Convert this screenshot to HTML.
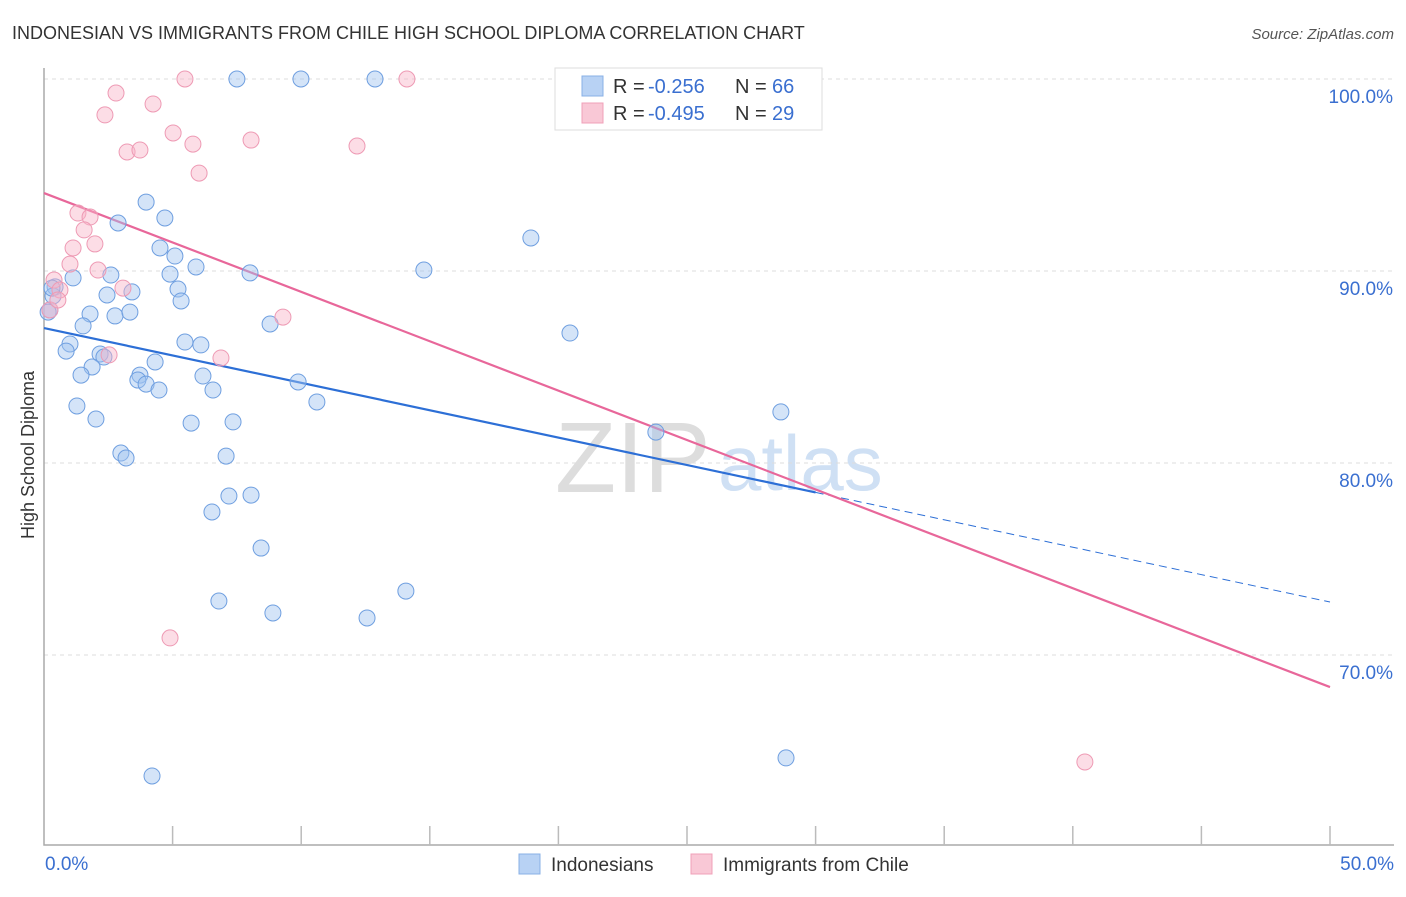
<!DOCTYPE html>
<html><head><meta charset="utf-8"><style>
body{margin:0;background:#fff;font-family:"Liberation Sans",sans-serif;}
svg text{font-family:"Liberation Sans",sans-serif;}
</style></head><body>
<svg id="chart" width="1406" height="892" xmlns="http://www.w3.org/2000/svg">
<text x="12" y="39" font-size="18" fill="#333">INDONESIAN VS IMMIGRANTS FROM CHILE HIGH SCHOOL DIPLOMA CORRELATION CHART</text>
<text x="1394" y="39" font-size="15" fill="#555" text-anchor="end" font-style="italic">Source: ZipAtlas.com</text>
<g>
<text x="555" y="492" font-size="100" fill="#ddd" font-family="Liberation Serif, serif">ZIP</text>
<text x="718" y="490" font-size="78" fill="#cfe0f4">atlas</text>
</g>
<g id="grid"></g>
<g id="axes"></g>
<g id="trends"></g>
<g id="points"></g>
<text transform="translate(34,455) rotate(-90)" font-size="18" fill="#333" text-anchor="middle">High School Diploma</text>
<g>
<rect x="555" y="68" width="267" height="62" fill="#fff" stroke="#ddd"/>
<rect x="582" y="76" width="21" height="20" fill="#b8d2f4" stroke="#88b0e6"/>
<text x="613" y="93" font-size="20" fill="#333">R =</text>
<text x="648" y="93" font-size="20" fill="#3a6fd0">-0.256</text>
<text x="735" y="93" font-size="20" fill="#333">N =</text>
<text x="772" y="93" font-size="20" fill="#3a6fd0">66</text>
<rect x="582" y="103" width="21" height="20" fill="#f9c8d6" stroke="#f0a0b8"/>
<text x="613" y="120" font-size="20" fill="#333">R =</text>
<text x="648" y="120" font-size="20" fill="#3a6fd0">-0.495</text>
<text x="735" y="120" font-size="20" fill="#333">N =</text>
<text x="772" y="120" font-size="20" fill="#3a6fd0">29</text>
</g>
<g>
<rect x="519" y="854" width="21" height="20" fill="#b8d2f4" stroke="#88b0e6"/>
<text x="551" y="871" font-size="19" fill="#333">Indonesians</text>
<rect x="691" y="854" width="21" height="20" fill="#f9c8d6" stroke="#f0a0b8"/>
<text x="723" y="871" font-size="19" fill="#333">Immigrants from Chile</text>
</g>
</svg>
<script>
const blueX=[7.50,9.99,12.87,3.97,2.88,4.70,4.51,5.09,5.91,4.90,2.60,8.01,5.21,5.33,2.45,3.42,1.13,0.43,0.35,0.23,1.79,2.76,3.34,1.52,8.79,5.48,6.10,1.01,0.86,2.18,2.33,4.32,1.87,1.44,3.73,3.65,3.97,4.47,6.18,6.57,9.88,10.61,1.28,2.02,5.72,7.35,2.99,3.19,7.08,7.19,8.05,6.53,8.44,6.80,8.90,12.56,14.07,18.93,14.77,20.45,23.79,28.65,28.85,4.20,0.16,0.31];
const blueY=[100,100,100,93.59,92.50,92.76,91.20,90.78,90.21,89.84,89.79,89.90,89.06,88.44,88.75,88.91,89.64,89.17,88.70,87.97,87.76,87.66,87.86,87.14,87.24,86.30,86.15,86.20,85.83,85.68,85.52,85.26,85.00,84.58,84.58,84.32,84.11,83.80,84.53,83.80,84.22,83.18,82.97,82.29,82.08,82.14,80.52,80.26,80.36,78.28,78.33,77.45,75.57,72.81,72.19,71.93,73.33,91.72,90.05,86.77,81.61,82.66,64.64,63.70,87.86,89.11];
const pinkX=[5.48,14.11,2.80,4.24,2.37,5.02,5.79,8.05,12.17,3.23,3.73,6.03,1.32,1.79,1.56,1.13,1.98,1.01,2.10,0.39,0.62,3.07,9.29,6.88,2.53,4.90,40.47,0.23,0.54];
const pinkY=[100,100,99.27,98.70,98.13,97.19,96.61,96.82,96.51,96.20,96.30,95.10,93.02,92.81,92.14,91.20,91.41,90.36,90.05,89.53,89.01,89.11,87.60,85.47,85.63,70.89,64.43,87.97,88.49];
const blueTrend=[87.03,72.76]; // values at x=0 and x=50
const pinkTrend=[94.06,68.33];
const yTicks=[100,90,80,70];
const xTickLabels=["0.0%","50.0%"];
const NS="http://www.w3.org/2000/svg";
const sx=v=>44+v*25.72, sy=v=>79+(100-v)*19.2;
function mk(tag,attrs,parent){const e=document.createElementNS(NS,tag);for(const k in attrs)e.setAttribute(k,attrs[k]);document.getElementById(parent).appendChild(e);return e;}
yTicks.forEach(t=>{
 const g=mk('line',{x1:44,x2:1394,y1:sy(t),y2:sy(t),stroke:'#ddd','stroke-dasharray':'4,4'},'grid');
 
 
 const l=mk('text',{x:1393,y:sy(t)+24,'font-size':19,fill:'#3a6fd0','text-anchor':'end'},'grid');
 l.textContent=t.toFixed(1)+'%';
 
 
});
const ax=mk('path',{d:'M44 68V845H1394',fill:'none',stroke:'#aaa','stroke-width':1.5},'axes');


for(let i=1;i<=10;i++){const t=mk('line',{x1:sx(i*5),x2:sx(i*5),y1:826,y2:845,stroke:'#bbb','stroke-width':1.5},'axes');
 
 }
[[0,'start',xTickLabels[0]],[50,'end',xTickLabels[1]]].forEach(([v,a,s])=>{const t=mk('text',{x:v?1394:45,y:870,'font-size':19,fill:'#3a6fd0','text-anchor':a},'axes');t.textContent=s;
 
 });
const bAt=x=>blueTrend[0]+(blueTrend[1]-blueTrend[0])*x/50;
const pAt=x=>pinkTrend[0]+(pinkTrend[1]-pinkTrend[0])*x/50;
const b1=mk('line',{x1:sx(0),y1:sy(bAt(0)),x2:sx(30),y2:sy(bAt(30)),stroke:'#2d6fd6','stroke-width':2.2},'trends');


const b2=mk('line',{x1:sx(30),y1:sy(bAt(30)),x2:sx(50),y2:sy(bAt(50)),stroke:'#2d6fd6','stroke-width':1,'stroke-dasharray':'8,5'},'trends');


const p1=mk('line',{x1:sx(0),y1:sy(pAt(0)),x2:sx(50),y2:sy(pAt(50)),stroke:'#e8679a','stroke-width':2.2},'trends');


blueX.forEach((x,i)=>{const c=mk('circle',{cx:sx(x),cy:sy(blueY[i]),r:8,fill:'rgba(160,196,240,0.45)',stroke:'#6f9fe0','stroke-width':1},'points');
 
 });
pinkX.forEach((x,i)=>{const c=mk('circle',{cx:sx(x),cy:sy(pinkY[i]),r:8,fill:'rgba(248,180,200,0.45)',stroke:'#ee9ab4','stroke-width':1},'points');
 
 });
</script>
</body></html>
